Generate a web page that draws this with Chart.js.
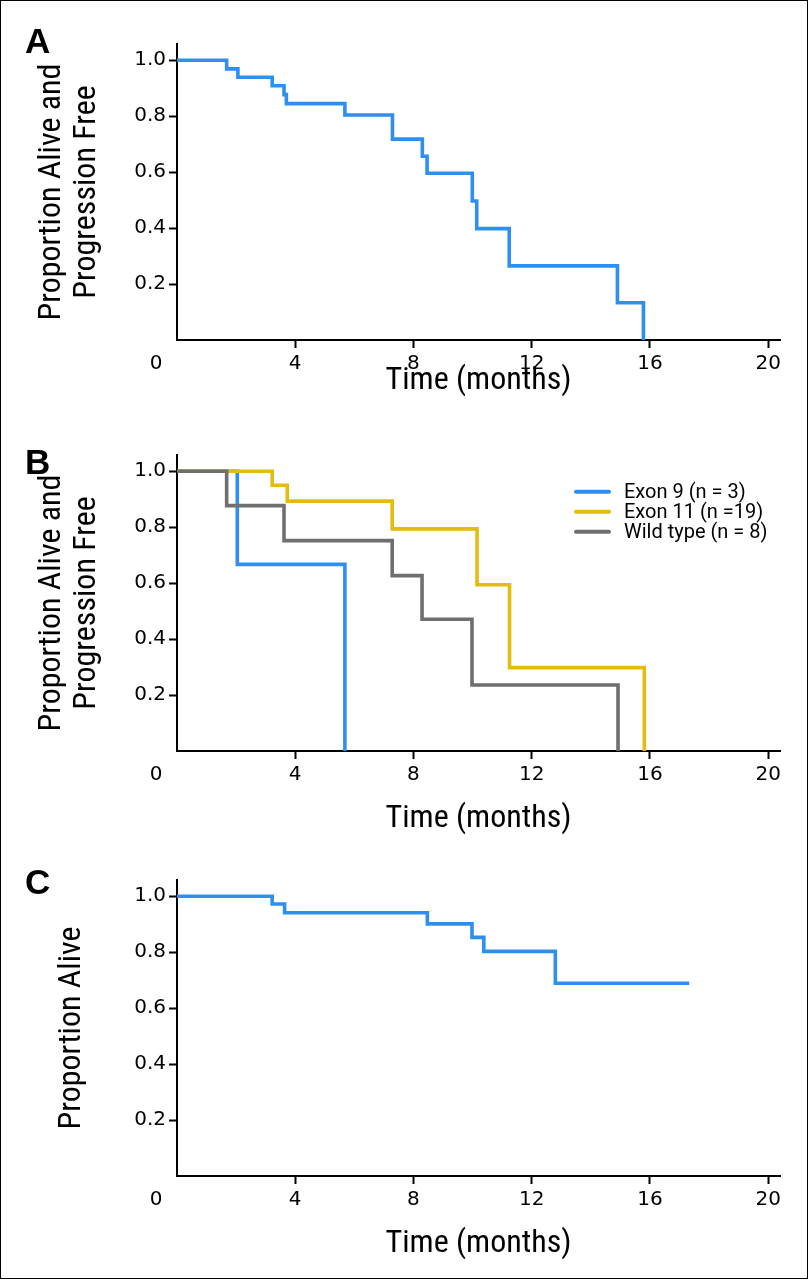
<!DOCTYPE html>
<html>
<head>
<meta charset="utf-8">
<script src="https://cdn.jsdelivr.net/npm/chart.js@4.4.1/dist/chart.umd.min.js"></script>
<style>
  html, body { margin: 0; padding: 0; background: #fff; }
  body { width: 809px; height: 1280px; position: relative; overflow: hidden; }
  canvas { position: absolute; left: 0; }
  .letter { position: absolute; left: 25px; font: bold 35px "Liberation Sans", Arial, sans-serif; line-height: 1; color: #000; }
  #frame { position: absolute; left: 0; top: 0; width: 808px; height: 1279px; border: 1px solid #000; box-sizing: border-box; pointer-events: none; }
</style>
</head>
<body>
<canvas id="chartA" width="809" height="440" style="top:0px"></canvas>
<canvas id="chartB" width="809" height="440" style="top:411px"></canvas>
<canvas id="chartC" width="809" height="440" style="top:836px"></canvas>
<div class="letter" style="top:23px">A</div>
<div class="letter" style="top:444px">B</div>
<div class="letter" style="top:864px">C</div>
<div id="frame"></div>
<script>
// axis ticks
const xTicks = [0, 4, 8, 12, 16, 20];
const yTicks = [0.2, 0.4, 0.6, 0.8, 1.0];

// A: all patients, progression-free
const aTime = [0, 1.68, 2.06, 3.22, 3.62, 3.70, 5.68, 7.29, 8.30, 8.46, 9.99, 10.14, 11.24, 14.90, 15.78];
const aSurv = [1.0, 0.969, 0.939, 0.909, 0.877, 0.845, 0.804, 0.718, 0.657, 0.596, 0.497, 0.398, 0.265, 0.133, 0];

// B: by mutation
const exon9Time = [0, 2.04, 5.68];
const exon9Surv = [1.0, 0.667, 0];
const exon11Time = [0, 3.22, 3.73, 7.28, 10.15, 11.25, 15.81];
const exon11Surv = [1.0, 0.950, 0.893, 0.794, 0.594, 0.298, 0];
const wildTime = [0, 1.68, 3.62, 7.28, 8.29, 9.98, 14.92];
const wildSurv = [1.0, 0.877, 0.752, 0.627, 0.471, 0.236, 0];

// C: overall survival
const cTime = [0, 3.22, 3.64, 8.47, 9.98, 10.38, 12.80, 17.33];
const cSurv = [1.0, 0.972, 0.941, 0.901, 0.853, 0.803, 0.689, 0.689];

const BLUE = "#2d8fef";
const YELLOW = "#e3bc0e";
const GRAY = "#6f6f6f";

const tickFont = { family: '"DejaVu Sans", Verdana, sans-serif', size: 20 };
const titleFont = { family: '"Liberation Sans Narrow", "Roboto Condensed", "DejaVu Sans Condensed", Roboto, sans-serif', size: 32, lineHeight: 1.1 };
const legendFont = '20px Roboto, "Liberation Sans", sans-serif';

function toPoints(times, surv) {
  return times.map((t, i) => ({ x: t, y: surv[i] }));
}

function curve(label, times, surv, color, order) {
  return {
    label,
    data: toPoints(times, surv),
    borderColor: color,
    backgroundColor: color,
    borderWidth: 3.6,
    stepped: true,
    pointRadius: 0,
    fill: false,
    borderCapStyle: "butt",
    borderJoinStyle: "miter",
    order: order || 0,
  };
}

// "0" sits left of the origin, shared by both axes
const zeroLabel = {
  id: "zeroLabel",
  afterDraw(chart) {
    const xs = chart.scales.x;
    const ctx = chart.ctx;
    ctx.save();
    ctx.font = `${tickFont.size}px ${tickFont.family}`;
    ctx.fillStyle = "#000";
    ctx.textAlign = "center";
    ctx.textBaseline = "middle";
    ctx.fillText("0", xs.getPixelForValue(0) - 21, xs.top + 8 + 4 + (tickFont.size * 1.2) / 2);
    ctx.restore();
  },
};

// legend stacked inside the plot, left aligned
const insideLegend = {
  id: "insideLegend",
  afterDraw(chart, args, opts) {
    if (!opts.show) return;
    const ctx = chart.ctx;
    ctx.save();
    ctx.font = legendFont;
    ctx.textAlign = "left";
    ctx.textBaseline = "middle";
    chart.data.datasets.forEach((ds, i) => {
      const y = opts.y + i * opts.rowGap;
      ctx.strokeStyle = ds.borderColor;
      ctx.lineWidth = 4;
      ctx.lineCap = "round";
      ctx.beginPath();
      ctx.moveTo(opts.x, y);
      ctx.lineTo(opts.x + 33, y);
      ctx.stroke();
      ctx.fillStyle = "#000";
      ctx.fillText(ds.label, opts.x + 48, y + 1);
    });
    ctx.restore();
  },
};

function makeChart(id, datasets, yTitle, yTitlePad, xTitlePad, showLegend) {
  const axisBorder = { display: true, color: "#000", width: 2 };
  const gridOpts = {
    drawOnChartArea: false,
    drawTicks: true,
    tickLength: 8,
    tickWidth: 2,
    tickColor: (c) => (c.tick && c.tick.value === 0 ? "rgba(0,0,0,0)" : "#000"),
  };
  return new Chart(document.getElementById(id), {
    type: "line",
    data: { datasets },
    options: {
      responsive: false,
      animation: false,
      layout: { padding: { top: 44, right: 29, left: 0, bottom: 0 } },
      plugins: {
        legend: { display: false },
        tooltip: { enabled: false },
        insideLegend: { show: !!showLegend, x: 576, y: 80.7, rowGap: 20 },
      },
      scales: {
        x: {
          type: "linear",
          min: 0,
          max: 20.4,
          afterBuildTicks: (s) => { s.ticks = xTicks.map((v) => ({ value: v })); },
          afterFit: (s) => { s.height = 100; },
          border: axisBorder,
          grid: gridOpts,
          ticks: {
            font: tickFont,
            color: "#000",
            padding: 4,
            maxRotation: 0,
            autoSkip: false,
            callback: (v) => (v === 0 ? "" : String(v)),
          },
          title: {
            display: true,
            text: "Time (months)",
            font: titleFont,
            color: "#000",
            padding: { top: 0, bottom: xTitlePad },
          },
        },
        y: {
          min: 0,
          max: 1.058,
          afterBuildTicks: (s) => { s.ticks = yTicks.map((v) => ({ value: v })); },
          afterFit: (s) => { s.width = 177; },
          border: axisBorder,
          grid: gridOpts,
          ticks: {
            font: tickFont,
            color: "#000",
            padding: 3,
            callback: (v) => Number(v).toFixed(1),
          },
          title: {
            display: true,
            text: yTitle,
            font: titleFont,
            color: "#000",
            padding: { top: yTitlePad, bottom: 0 },
          },
        },
      },
    },
    plugins: [zeroLabel, insideLegend],
  });
}

const pfsTitle = ["Proportion Alive and", "Progression Free"];

makeChart("chartA", [curve("All patients", aTime, aSurv, BLUE)], pfsTitle, 34, 41, false);

makeChart(
  "chartB",
  [
    curve("Exon 9 (n = 3)", exon9Time, exon9Surv, BLUE, 3),
    curve("Exon 11 (n =19)", exon11Time, exon11Surv, YELLOW, 2),
    curve("Wild type (n = 8)", wildTime, wildSurv, GRAY, 1),
  ],
  pfsTitle,
  34,
  14,
  true
);

makeChart("chartC", [curve("All patients", cTime, cSurv, BLUE)], "Proportion Alive", 54, 14, false);
</script>
</body>
</html>
